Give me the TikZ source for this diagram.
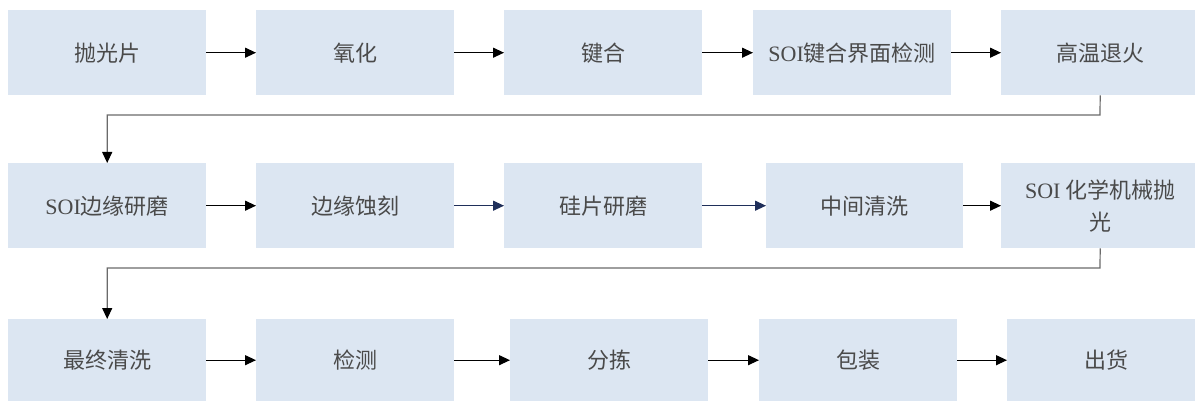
\documentclass[tikz,border=0pt]{standalone}
\usepackage{fontspec}
\setmainfont{Liberation Serif}
\newfontfamily\cjk{Noto Sans CJK SC}
\usetikzlibrary{arrows.meta}
\definecolor{boxfill}{HTML}{DCE6F2}
\definecolor{txt}{HTML}{4A4A4A}
\definecolor{navy}{HTML}{1F2F5A}
\definecolor{conn}{HTML}{6A6A6A}
\tikzset{
  stepbox/.style={fill=boxfill, draw=none, anchor=north west, minimum width=198pt,
    minimum height=85pt, inner sep=2pt, text=txt, align=center,
    font=\cjk\fontsize{22}{32}\selectfont},
  lastrow/.style={minimum height=82pt},
  flow/.style={-{Triangle[length=11pt,width=10pt]}, line width=1.2pt, black},
  flownavy/.style={flow, navy},
  wrap/.style={-{Triangle[length=11pt,width=10pt,color=black]}, line width=1.2pt, conn}
}
\begin{document}
\begin{tikzpicture}[x=1pt,y=-1pt]
\useasboundingbox[fill=white] (0,0) rectangle (1195,401);
% row 1
\node[stepbox] (a1) at (8,10) {抛光片};
\node[stepbox] (a2) at (256,10) {氧化};
\node[stepbox] (a3) at (504,10) {键合};
\node[stepbox] (a4) at (753,10) {{\rmfamily SOI}键合界面检测};
\node[stepbox] (a5) at (1001,10) {高温退火};
% row 2
\node[stepbox] (b1) at (8,163) {{\rmfamily SOI}边缘研磨};
\node[stepbox] (b2) at (256,163) {边缘蚀刻};
\node[stepbox] (b3) at (504,163) {硅片研磨};
\node[stepbox, minimum width=197pt] (b4) at (766,163) {中间清洗};
\node[stepbox] (b5) at (1001,163) {{\rmfamily SOI} 化学机械抛\\光};
% row 3
\node[stepbox, lastrow] (c1) at (8,319) {最终清洗};
\node[stepbox, lastrow] (c2) at (256,319) {检测};
\node[stepbox, lastrow] (c3) at (510,319) {分拣};
\node[stepbox, lastrow] (c4) at (759,319) {包装};
\node[stepbox, lastrow] (c5) at (1007,319) {出货};
% arrows row 1
\draw[flow] (a1.east) -- (a2.west);
\draw[flow] (a2.east) -- (a3.west);
\draw[flow] (a3.east) -- (a4.west);
\draw[flow] (a4.east) -- (a5.west);
% arrows row 2
\draw[flow] (b1.east) -- (b2.west);
\draw[flownavy] (b2.east) -- (b3.west);
\draw[flownavy] (b3.east) -- (b4.west);
\draw[flow] (b4.east) -- (b5.west);
% arrows row 3
\draw[flow] (c1.east) -- (c2.west);
\draw[flow] (c2.east) -- (c3.west);
\draw[flow] (c3.east) -- (c4.west);
\draw[flow] (c4.east) -- (c5.west);
% wrap connectors
\coordinate (w1) at (1100,115);
\coordinate (w2) at (1100,268);
\draw[wrap] (a5.south) -- (w1) -| (b1.north);
\draw[wrap] (b5.south) -- (w2) -| (c1.north);
\end{tikzpicture}
\end{document}
